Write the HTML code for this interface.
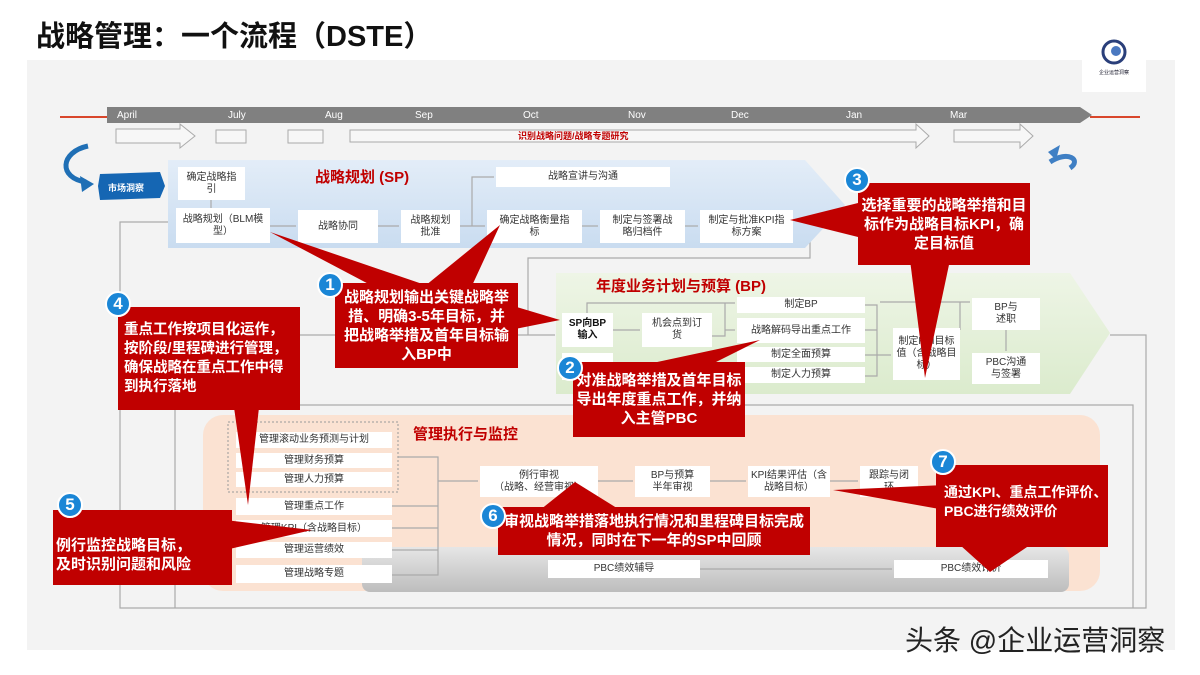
<!DOCTYPE html>
<html><head><meta charset="utf-8"><style>
*{margin:0;padding:0;box-sizing:border-box}
body{width:1200px;height:675px;background:#fff;position:relative;overflow:hidden;font-family:"Liberation Sans","Noto Sans CJK SC",sans-serif}
.a{position:absolute}
.b{position:absolute;background:#fff;display:flex;align-items:center;justify-content:center;text-align:center;font-size:10px;line-height:12px;color:#333}
.m{position:absolute;color:#fff;font-size:10px;top:110px}
.t{position:absolute;color:#c00000;font-weight:bold;font-size:15px}
.c{position:absolute;background:#c00000;color:#fff;font-weight:bold;font-size:15px;line-height:19px;display:flex;align-items:center;justify-content:center;text-align:center;white-space:nowrap}
.n{position:absolute;width:26px;height:26px;border-radius:50%;background:#1a86d6;border:2px solid #fff;color:#fff;font-size:17px;font-weight:bold;display:flex;align-items:center;justify-content:center}
</style></head><body>
<div class="a" style="left:27px;top:60px;width:1148px;height:590px;background:#f3f3f3"></div>
<div class="a" style="left:36px;top:13px;font-size:29px;font-weight:bold;color:#111">战略管理：一个流程（DSTE）</div>
<div class="a" style="left:1082px;top:28px;width:64px;height:64px;background:#fff"></div>
<svg class="a" style="left:1082px;top:28px" width="64" height="64"><circle cx="32" cy="24" r="11" fill="none" stroke="#2a3f7a" stroke-width="3"/><circle cx="34" cy="23" r="5" fill="#4a78c0"/><text x="32" y="46" font-size="5" text-anchor="middle" fill="#223">企业运营洞察</text></svg>

<svg class="a" style="left:0;top:0" width="1200" height="675">
<line x1="60" y1="117" x2="107" y2="117" stroke="#d9462b" stroke-width="2"/>
<line x1="1090" y1="117" x2="1140" y2="117" stroke="#d9462b" stroke-width="2"/>
<polygon points="107,107 1080,107 1092,115 1080,123 107,123" fill="#808080"/>
<g fill="#f7f7f7" stroke="#aaa" stroke-width="1">
<polygon points="116,129 180,129 180,124 195,136 180,148 180,143 116,143"/>
<rect x="216" y="130" width="30" height="13"/>
<rect x="288" y="130" width="35" height="13"/>
<polygon points="350,130 916,130 916,124 929,136 916,148 916,142 350,142"/>
<polygon points="954,130 1020,130 1020,124 1033,136 1020,148 1020,142 954,142"/>
</g>
<path d="M88,146 C60,152 58,178 86,182" fill="none" stroke="#1f6fb5" stroke-width="5"/>
<polygon points="80,176 94,184 82,192" fill="#1f6fb5"/>
<path d="M1050,162 C1068,150 1082,160 1070,168" fill="none" stroke="#3f7fc4" stroke-width="5"/>
<polygon points="1048,152 1060,145 1056,160" fill="#3f7fc4"/>
<g fill="none" stroke="#aaa" stroke-width="1.2">
<path d="M168,222 L120,222 L120,608 L1146,608 L1146,335 L1110,335"/>
<path d="M810,230 L810,258 L528,258 L528,335"/>
<path d="M120,335 L555,335"/>
<path d="M175,608 L175,405 L1133,405 L1133,608"/>
</g>
<defs><linearGradient id="g1" x1="0" y1="0" x2="0" y2="1"><stop offset="0" stop-color="#e3edf8"/><stop offset="1" stop-color="#c9dcf0"/></linearGradient>
<linearGradient id="g2" x1="0" y1="0" x2="0" y2="1"><stop offset="0" stop-color="#eef5e6"/><stop offset="1" stop-color="#dbebcd"/></linearGradient>
<linearGradient id="g3" x1="0" y1="0" x2="0" y2="1"><stop offset="0" stop-color="#e6e6e6"/><stop offset="1" stop-color="#bdbdbd"/></linearGradient></defs>
<polygon points="168,160 805,160 845,205 805,248 168,248" fill="url(#g1)"/>
<polygon points="100,174 160,172 165,186 160,198 100,200 98,186" fill="#1566b3"/>
<polygon points="556,273 1070,273 1110,333 1070,394 556,394" fill="url(#g2)"/>
<rect x="203" y="415" width="897" height="176" rx="20" fill="#fbe2d2"/>
<rect x="362" y="547" width="707" height="45" rx="8" fill="url(#g3)"/>
<rect x="228" y="422" width="170" height="70" fill="none" stroke="#999" stroke-dasharray="2,2"/>
<g stroke="#aaa" stroke-width="1.2" fill="#aaa">
<line x1="211" y1="200" x2="211" y2="208"/>
<line x1="270" y1="226" x2="296" y2="226"/><line x1="378" y1="226" x2="399" y2="226"/><line x1="460" y1="226" x2="485" y2="226"/><line x1="582" y1="226" x2="598" y2="226"/><line x1="685" y1="226" x2="698" y2="226"/>
<path d="M472,226 L472,177 L494,177" fill="none"/>
<line x1="613" y1="330" x2="640" y2="330"/>
<path d="M587,313 L587,303 L735,303" fill="none"/>
<path d="M712,336 L725,336 L725,303" fill="none"/><line x1="725" y1="330" x2="735" y2="330"/>
<path d="M865,305 L877,305 L877,376 L865,376 M865,330 L877,330 M865,355 L877,355 M877,355 L891,355" fill="none"/>
<path d="M880,302 L970,302 M960,302 L960,330" fill="none"/>
<line x1="1006" y1="330" x2="1006" y2="351"/>
<path d="M398,457 L438,457 L438,575 L392,575 M392,506 L438,506 M392,528 L438,528 M392,550 L438,550 M438,481 L478,481" fill="none"/>
<line x1="598" y1="481" x2="633" y2="481"/><line x1="710" y1="481" x2="746" y2="481"/><line x1="830" y1="481" x2="858" y2="481"/>
<line x1="700" y1="569" x2="892" y2="569"/>
</g>
</svg>
<div class="m" style="left:117px">April</div><div class="m" style="left:228px">July</div><div class="m" style="left:325px">Aug</div><div class="m" style="left:415px">Sep</div><div class="m" style="left:523px">Oct</div><div class="m" style="left:628px">Nov</div><div class="m" style="left:731px">Dec</div><div class="m" style="left:846px">Jan</div><div class="m" style="left:950px">Mar</div>
<div class="a" style="left:518px;top:129px;font-size:9px;color:#c00000;font-weight:bold">识别战略问题/战略专题研究</div>
<div class="a" style="left:108px;top:181px;font-size:9px;color:#fff;font-weight:bold">市场洞察</div>

<div class="t" style="left:315px;top:166px">战略规划 (SP)</div>
<div class="b" style="left:178px;top:167px;width:67px;height:33px">确定战略指<br>引</div>
<div class="b" style="left:176px;top:208px;width:94px;height:35px">战略规划（BLM模<br>型）</div>
<div class="b" style="left:298px;top:210px;width:80px;height:33px">战略协同</div>
<div class="b" style="left:401px;top:210px;width:59px;height:33px">战略规划<br>批准</div>
<div class="b" style="left:487px;top:210px;width:95px;height:33px">确定战略衡量指<br>标</div>
<div class="b" style="left:600px;top:210px;width:85px;height:33px">制定与签署战<br>略归档件</div>
<div class="b" style="left:700px;top:210px;width:93px;height:33px">制定与批准KPI指<br>标方案</div>
<div class="b" style="left:496px;top:167px;width:174px;height:20px">战略宣讲与沟通</div>

<div class="t" style="left:596px;top:275px">年度业务计划与预算 (BP)</div>
<div class="b" style="left:562px;top:313px;width:51px;height:34px;font-weight:bold;color:#111">SP向BP<br>输入</div>
<div class="b" style="left:562px;top:353px;width:51px;height:27px"></div>
<div class="b" style="left:642px;top:313px;width:70px;height:34px">机会点到订<br>货</div>
<div class="b" style="left:737px;top:297px;width:128px;height:16px">制定BP</div>
<div class="b" style="left:737px;top:318px;width:128px;height:25px">战略解码导出重点工作</div>
<div class="b" style="left:737px;top:347px;width:128px;height:15px">制定全面预算</div>
<div class="b" style="left:737px;top:367px;width:128px;height:16px">制定人力预算</div>
<div class="b" style="left:893px;top:328px;width:67px;height:52px">制定KPI目标<br>值（含战略目<br>标）</div>
<div class="b" style="left:972px;top:298px;width:68px;height:32px">BP与<br>述职</div>
<div class="b" style="left:972px;top:353px;width:68px;height:31px">PBC沟通<br>与签署</div>

<div class="t" style="left:413px;top:423px">管理执行与监控</div>
<div class="b" style="left:236px;top:432px;width:156px;height:16px">管理滚动业务预测与计划</div>
<div class="b" style="left:236px;top:453px;width:156px;height:15px">管理财务预算</div>
<div class="b" style="left:236px;top:472px;width:156px;height:15px">管理人力预算</div>
<div class="b" style="left:236px;top:498px;width:156px;height:17px">管理重点工作</div>
<div class="b" style="left:236px;top:520px;width:156px;height:17px">管理KPI（含战略目标）</div>
<div class="b" style="left:236px;top:542px;width:156px;height:16px">管理运营绩效</div>
<div class="b" style="left:236px;top:565px;width:156px;height:18px">管理战略专题</div>
<div class="b" style="left:480px;top:466px;width:118px;height:31px">例行审视<br>（战略、经营审视）</div>
<div class="b" style="left:635px;top:466px;width:75px;height:31px">BP与预算<br>半年审视</div>
<div class="b" style="left:748px;top:466px;width:82px;height:31px">KPI结果评估（含<br>战略目标）</div>
<div class="b" style="left:860px;top:466px;width:58px;height:31px">跟踪与闭<br>环</div>
<div class="b" style="left:548px;top:560px;width:152px;height:18px">PBC绩效辅导</div>
<div class="b" style="left:894px;top:560px;width:154px;height:18px">PBC绩效评价</div>

<svg class="a" style="left:0;top:0" width="1200" height="675">
<g fill="#c00000">
<polygon points="380,290 270,232 440,290"/><polygon points="420,290 500,225 470,290"/><polygon points="510,305 560,320 510,330"/>
<polygon points="620,370 760,340 700,370"/>
<polygon points="870,200 790,220 870,240"/><polygon points="910,260 925,378 950,260"/>
<polygon points="220,310 248,505 270,310"/>
<polygon points="225,520 312,530 225,550"/>
<polygon points="540,510 575,482 620,510"/>
<polygon points="945,485 833,490 945,510"/><polygon points="960,545 990,572 1030,545"/>
</g></svg>
<div class="c" style="left:335px;top:283px;width:183px;height:85px">战略规划输出关键战略举<br>措、明确3-5年目标，并<br>把战略举措及首年目标输<br>入BP中</div>
<div class="c" style="left:573px;top:362px;width:172px;height:75px">对准战略举措及首年目标<br>导出年度重点工作，并纳<br>入主管PBC</div>
<div class="c" style="left:858px;top:183px;width:172px;height:82px">选择重要的战略举措和目<br>标作为战略目标KPI，确<br>定目标值</div>
<div class="c" style="left:118px;top:307px;width:182px;height:103px;justify-content:flex-start;text-align:left;padding-left:6px;font-size:14.5px">重点工作按项目化运作，<br>按阶段/里程碑进行管理，<br>确保战略在重点工作中得<br>到执行落地</div>
<div class="c" style="left:53px;top:510px;width:179px;height:75px;justify-content:flex-start;text-align:left;padding-left:3px;padding-top:14px">例行监控战略目标，<br>及时识别问题和风险</div>
<div class="c" style="left:498px;top:507px;width:312px;height:48px">审视战略举措落地执行情况和里程碑目标完成<br>情况，同时在下一年的SP中回顾</div>
<div class="c" style="left:936px;top:465px;width:172px;height:82px;align-items:flex-start;justify-content:flex-start;padding-top:18px;padding-left:8px;text-align:left;font-size:14px">通过KPI、重点工作评价、<br>PBC进行绩效评价</div>
<div class="n" style="left:317px;top:272px">1</div>
<div class="n" style="left:557px;top:355px">2</div>
<div class="n" style="left:844px;top:167px">3</div>
<div class="n" style="left:105px;top:291px">4</div>
<div class="n" style="left:57px;top:492px">5</div>
<div class="n" style="left:480px;top:503px">6</div>
<div class="n" style="left:930px;top:449px">7</div>
<div class="a" style="left:905px;top:619px;font-size:28px;color:#222">头条 @企业运营洞察</div>
</body></html>
